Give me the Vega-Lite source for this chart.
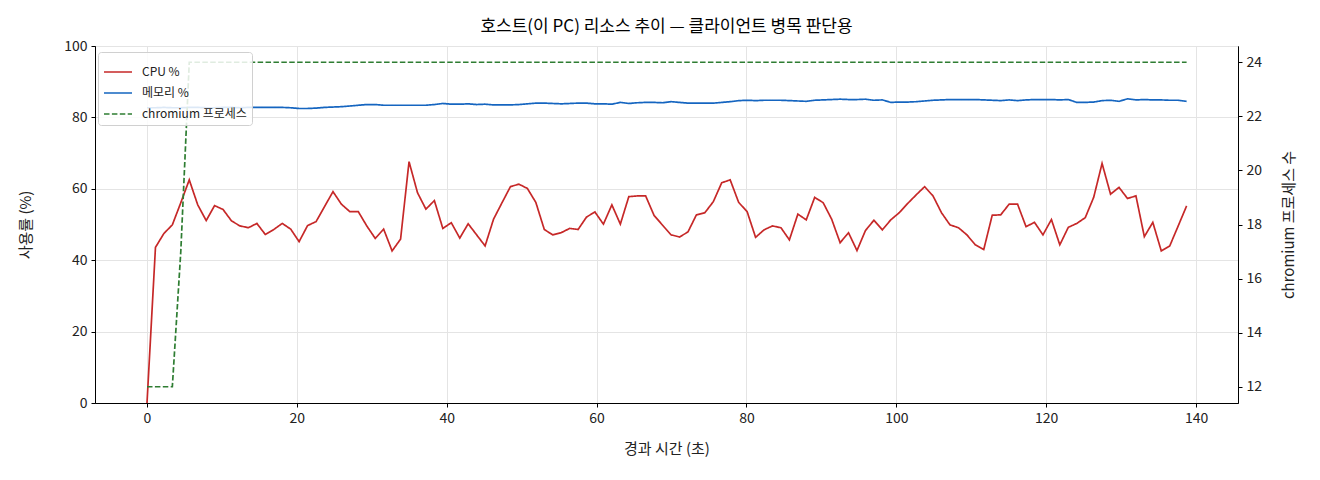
{
  "$schema": "https://vega.github.io/schema/vega-lite/v6.json",
  "description": "Host (this PC) resource trend: CPU %, memory %, chromium process count",
  "autosize": "none",
  "width": 1143,
  "height": 357,
  "padding": {"left": 95, "top": 46, "right": 82, "bottom": 77},
  "background": "white",
  "title": {
    "text": "호스트(이 PC) 리소스 추이 — 클라이언트 병목 판단용",
    "fontSize": 17,
    "fontWeight": "normal",
    "color": "black",
    "offset": 3
  },
  "data": {
    "values": [
      {"t": 0, "cpu": 0, "mem": 82.7, "chr": 12},
      {"t": 1.13, "cpu": 43.6, "mem": 82.7, "chr": 12},
      {"t": 2.26, "cpu": 47.5, "mem": 82.8, "chr": 12},
      {"t": 3.38, "cpu": 49.9, "mem": 82.7, "chr": 12},
      {"t": 4.51, "cpu": 56.1, "mem": 82.7, "chr": 17},
      {"t": 5.64, "cpu": 62.5, "mem": 82.8, "chr": 24},
      {"t": 6.77, "cpu": 55.5, "mem": 82.8, "chr": 24},
      {"t": 7.9, "cpu": 51.1, "mem": 82.7, "chr": 24},
      {"t": 9.02, "cpu": 55.3, "mem": 82.7, "chr": 24},
      {"t": 10.15, "cpu": 54.2, "mem": 82.8, "chr": 24},
      {"t": 11.28, "cpu": 51.0, "mem": 82.8, "chr": 24},
      {"t": 12.41, "cpu": 49.6, "mem": 82.7, "chr": 24},
      {"t": 13.54, "cpu": 49.1, "mem": 82.8, "chr": 24},
      {"t": 14.66, "cpu": 50.3, "mem": 82.8, "chr": 24},
      {"t": 15.79, "cpu": 47.2, "mem": 82.8, "chr": 24},
      {"t": 16.92, "cpu": 48.6, "mem": 82.8, "chr": 24},
      {"t": 18.05, "cpu": 50.3, "mem": 82.8, "chr": 24},
      {"t": 19.18, "cpu": 48.7, "mem": 82.7, "chr": 24},
      {"t": 20.3, "cpu": 45.2, "mem": 82.5, "chr": 24},
      {"t": 21.43, "cpu": 49.7, "mem": 82.5, "chr": 24},
      {"t": 22.56, "cpu": 50.8, "mem": 82.6, "chr": 24},
      {"t": 23.69, "cpu": 55.0, "mem": 82.8, "chr": 24},
      {"t": 24.82, "cpu": 59.2, "mem": 82.9, "chr": 24},
      {"t": 25.94, "cpu": 55.7, "mem": 83.0, "chr": 24},
      {"t": 27.07, "cpu": 53.6, "mem": 83.2, "chr": 24},
      {"t": 28.2, "cpu": 53.6, "mem": 83.4, "chr": 24},
      {"t": 29.33, "cpu": 49.6, "mem": 83.6, "chr": 24},
      {"t": 30.46, "cpu": 46.1, "mem": 83.6, "chr": 24},
      {"t": 31.58, "cpu": 48.7, "mem": 83.4, "chr": 24},
      {"t": 32.71, "cpu": 42.6, "mem": 83.4, "chr": 24},
      {"t": 33.84, "cpu": 45.9, "mem": 83.4, "chr": 24},
      {"t": 34.97, "cpu": 67.6, "mem": 83.4, "chr": 24},
      {"t": 36.1, "cpu": 58.9, "mem": 83.4, "chr": 24},
      {"t": 37.22, "cpu": 54.3, "mem": 83.4, "chr": 24},
      {"t": 38.35, "cpu": 56.7, "mem": 83.6, "chr": 24},
      {"t": 39.48, "cpu": 48.9, "mem": 83.9, "chr": 24},
      {"t": 40.61, "cpu": 50.5, "mem": 83.7, "chr": 24},
      {"t": 41.74, "cpu": 46.2, "mem": 83.7, "chr": 24},
      {"t": 42.86, "cpu": 50.2, "mem": 83.8, "chr": 24},
      {"t": 43.99, "cpu": 47.1, "mem": 83.6, "chr": 24},
      {"t": 45.12, "cpu": 44.0, "mem": 83.7, "chr": 24},
      {"t": 46.25, "cpu": 51.5, "mem": 83.5, "chr": 24},
      {"t": 47.38, "cpu": 56.1, "mem": 83.5, "chr": 24},
      {"t": 48.5, "cpu": 60.6, "mem": 83.5, "chr": 24},
      {"t": 49.63, "cpu": 61.3, "mem": 83.6, "chr": 24},
      {"t": 50.76, "cpu": 60.1, "mem": 83.8, "chr": 24},
      {"t": 51.89, "cpu": 56.2, "mem": 84.0, "chr": 24},
      {"t": 53.02, "cpu": 48.6, "mem": 84.0, "chr": 24},
      {"t": 54.14, "cpu": 47.1, "mem": 83.9, "chr": 24},
      {"t": 55.27, "cpu": 47.7, "mem": 83.8, "chr": 24},
      {"t": 56.4, "cpu": 48.9, "mem": 83.9, "chr": 24},
      {"t": 57.53, "cpu": 48.6, "mem": 84.0, "chr": 24},
      {"t": 58.66, "cpu": 52.1, "mem": 84.0, "chr": 24},
      {"t": 59.78, "cpu": 53.5, "mem": 83.8, "chr": 24},
      {"t": 60.91, "cpu": 50.1, "mem": 83.8, "chr": 24},
      {"t": 62.04, "cpu": 55.5, "mem": 83.7, "chr": 24},
      {"t": 63.17, "cpu": 50.1, "mem": 84.2, "chr": 24},
      {"t": 64.3, "cpu": 57.8, "mem": 83.9, "chr": 24},
      {"t": 65.42, "cpu": 58.0, "mem": 84.1, "chr": 24},
      {"t": 66.55, "cpu": 58.0, "mem": 84.2, "chr": 24},
      {"t": 67.68, "cpu": 52.5, "mem": 84.2, "chr": 24},
      {"t": 68.81, "cpu": 49.8, "mem": 84.1, "chr": 24},
      {"t": 69.94, "cpu": 47.1, "mem": 84.4, "chr": 24},
      {"t": 71.06, "cpu": 46.5, "mem": 84.2, "chr": 24},
      {"t": 72.19, "cpu": 47.9, "mem": 84.0, "chr": 24},
      {"t": 73.32, "cpu": 52.7, "mem": 84.0, "chr": 24},
      {"t": 74.45, "cpu": 53.3, "mem": 84.0, "chr": 24},
      {"t": 75.58, "cpu": 56.4, "mem": 84.0, "chr": 24},
      {"t": 76.7, "cpu": 61.7, "mem": 84.2, "chr": 24},
      {"t": 77.83, "cpu": 62.5, "mem": 84.4, "chr": 24},
      {"t": 78.96, "cpu": 56.2, "mem": 84.7, "chr": 24},
      {"t": 80.09, "cpu": 53.6, "mem": 84.8, "chr": 24},
      {"t": 81.22, "cpu": 46.4, "mem": 84.7, "chr": 24},
      {"t": 82.34, "cpu": 48.5, "mem": 84.8, "chr": 24},
      {"t": 83.47, "cpu": 49.6, "mem": 84.8, "chr": 24},
      {"t": 84.6, "cpu": 49.1, "mem": 84.8, "chr": 24},
      {"t": 85.73, "cpu": 45.7, "mem": 84.7, "chr": 24},
      {"t": 86.86, "cpu": 52.9, "mem": 84.6, "chr": 24},
      {"t": 87.98, "cpu": 51.3, "mem": 84.5, "chr": 24},
      {"t": 89.11, "cpu": 57.6, "mem": 84.8, "chr": 24},
      {"t": 90.24, "cpu": 56.1, "mem": 84.9, "chr": 24},
      {"t": 91.37, "cpu": 51.5, "mem": 85.0, "chr": 24},
      {"t": 92.5, "cpu": 44.9, "mem": 85.1, "chr": 24},
      {"t": 93.62, "cpu": 47.7, "mem": 85.0, "chr": 24},
      {"t": 94.75, "cpu": 42.7, "mem": 85.0, "chr": 24},
      {"t": 95.88, "cpu": 48.3, "mem": 85.1, "chr": 24},
      {"t": 97.01, "cpu": 51.2, "mem": 84.8, "chr": 24},
      {"t": 98.14, "cpu": 48.5, "mem": 84.9, "chr": 24},
      {"t": 99.26, "cpu": 51.3, "mem": 84.2, "chr": 24},
      {"t": 100.39, "cpu": 53.3, "mem": 84.3, "chr": 24},
      {"t": 101.52, "cpu": 55.9, "mem": 84.3, "chr": 24},
      {"t": 102.65, "cpu": 58.3, "mem": 84.4, "chr": 24},
      {"t": 103.78, "cpu": 60.6, "mem": 84.6, "chr": 24},
      {"t": 104.9, "cpu": 58.0, "mem": 84.8, "chr": 24},
      {"t": 106.03, "cpu": 53.3, "mem": 84.9, "chr": 24},
      {"t": 107.16, "cpu": 49.9, "mem": 85.0, "chr": 24},
      {"t": 108.29, "cpu": 49.1, "mem": 85.0, "chr": 24},
      {"t": 109.42, "cpu": 47.1, "mem": 85.0, "chr": 24},
      {"t": 110.54, "cpu": 44.3, "mem": 85.0, "chr": 24},
      {"t": 111.67, "cpu": 43.0, "mem": 84.9, "chr": 24},
      {"t": 112.8, "cpu": 52.6, "mem": 84.8, "chr": 24},
      {"t": 113.93, "cpu": 52.7, "mem": 84.7, "chr": 24},
      {"t": 115.06, "cpu": 55.7, "mem": 84.9, "chr": 24},
      {"t": 116.18, "cpu": 55.7, "mem": 84.7, "chr": 24},
      {"t": 117.31, "cpu": 49.4, "mem": 84.9, "chr": 24},
      {"t": 118.44, "cpu": 50.6, "mem": 85.0, "chr": 24},
      {"t": 119.57, "cpu": 47.1, "mem": 85.0, "chr": 24},
      {"t": 120.7, "cpu": 51.4, "mem": 85.0, "chr": 24},
      {"t": 121.82, "cpu": 44.3, "mem": 84.9, "chr": 24},
      {"t": 122.95, "cpu": 49.2, "mem": 85.0, "chr": 24},
      {"t": 124.08, "cpu": 50.3, "mem": 84.2, "chr": 24},
      {"t": 125.21, "cpu": 51.9, "mem": 84.2, "chr": 24},
      {"t": 126.34, "cpu": 57.6, "mem": 84.3, "chr": 24},
      {"t": 127.46, "cpu": 67.1, "mem": 84.7, "chr": 24},
      {"t": 128.59, "cpu": 58.5, "mem": 84.8, "chr": 24},
      {"t": 129.72, "cpu": 60.4, "mem": 84.5, "chr": 24},
      {"t": 130.85, "cpu": 57.3, "mem": 85.2, "chr": 24},
      {"t": 131.98, "cpu": 58.0, "mem": 84.9, "chr": 24},
      {"t": 133.1, "cpu": 46.6, "mem": 85.0, "chr": 24},
      {"t": 134.23, "cpu": 50.6, "mem": 84.9, "chr": 24},
      {"t": 135.36, "cpu": 42.6, "mem": 84.9, "chr": 24},
      {"t": 136.49, "cpu": 44.0, "mem": 84.8, "chr": 24},
      {"t": 137.62, "cpu": 49.6, "mem": 84.8, "chr": 24},
      {"t": 138.74, "cpu": 55.2, "mem": 84.5, "chr": 24}
    ]
  },
  "transform": [
    {"fold": ["cpu", "mem", "chr"], "as": ["series", "value"]}
  ],
  "encoding": {
    "x": {
      "field": "t",
      "type": "quantitative",
      "title": "경과 시간 (초)",
      "scale": {"domain": [-6.94, 145.6], "nice": false, "zero": false},
      "axis": {"values": [0, 20, 40, 60, 80, 100, 120, 140], "grid": true, "titlePadding": 16}
    },
    "color": {
      "field": "series",
      "type": "nominal",
      "scale": {
        "domain": ["cpu", "mem", "chr"],
        "range": ["#c62828", "#1565c0", "#2e7d32"]
      },
      "legend": {
        "title": null,
        "orient": "none",
        "legendX": 3,
        "legendY": 6,
        "labelExpr": "{'cpu': 'CPU %', 'mem': '메모리 %', 'chr': 'chromium 프로세스'}[datum.value]"
      }
    },
    "strokeDash": {
      "field": "series",
      "type": "nominal",
      "scale": {
        "domain": ["cpu", "mem", "chr"],
        "range": [[1, 0], [1, 0], [5.5, 2.4]]
      },
      "legend": {
        "title": null,
        "orient": "none",
        "legendX": 3,
        "legendY": 6,
        "labelExpr": "{'cpu': 'CPU %', 'mem': '메모리 %', 'chr': 'chromium 프로세스'}[datum.value]"
      }
    }
  },
  "layer": [
    {
      "transform": [{"filter": "datum.series !== 'chr'"}],
      "mark": {"type": "line", "strokeWidth": 1.7},
      "encoding": {
        "y": {
          "field": "value",
          "type": "quantitative",
          "title": "사용률 (%)",
          "scale": {"domain": [0, 100], "nice": false},
          "axis": {"values": [0, 20, 40, 60, 80, 100], "grid": true, "titlePadding": 30}
        }
      }
    },
    {
      "transform": [{"filter": "datum.series === 'chr'"}],
      "mark": {"type": "line", "strokeWidth": 1.7},
      "encoding": {
        "y": {
          "field": "value",
          "type": "quantitative",
          "title": "chromium 프로세스 수",
          "scale": {"domain": [11.4, 24.6], "nice": false, "zero": false},
          "axis": {
            "orient": "right",
            "values": [12, 14, 16, 18, 20, 22, 24],
            "grid": false,
            "titleAngle": 270,
            "titleBaseline": "top",
            "titlePadding": 20
          }
        }
      }
    }
  ],
  "resolve": {"scale": {"y": "independent"}},
  "config": {
    "font": "Noto Sans CJK KR",
    "view": {"stroke": "black", "strokeWidth": 1},
    "axis": {
      "domainColor": "black",
      "tickColor": "black",
      "tickSize": 4,
      "labelColor": "#222222",
      "labelFontSize": 14,
      "titleFontSize": 15,
      "titleFontWeight": "normal",
      "titleColor": "#222222",
      "gridColor": "#e4e4e4",
      "labelPadding": 4
    },
    "legend": {
      "fillColor": "rgba(255,255,255,0.85)",
      "strokeColor": "#d0d0d0",
      "cornerRadius": 3,
      "padding": 5,
      "rowPadding": -2,
      "labelFontSize": 12,
      "labelOffset": 9,
      "labelColor": "#222222",
      "symbolType": "stroke",
      "symbolSize": 784,
      "symbolStrokeWidth": 1.7
    }
  }
}
